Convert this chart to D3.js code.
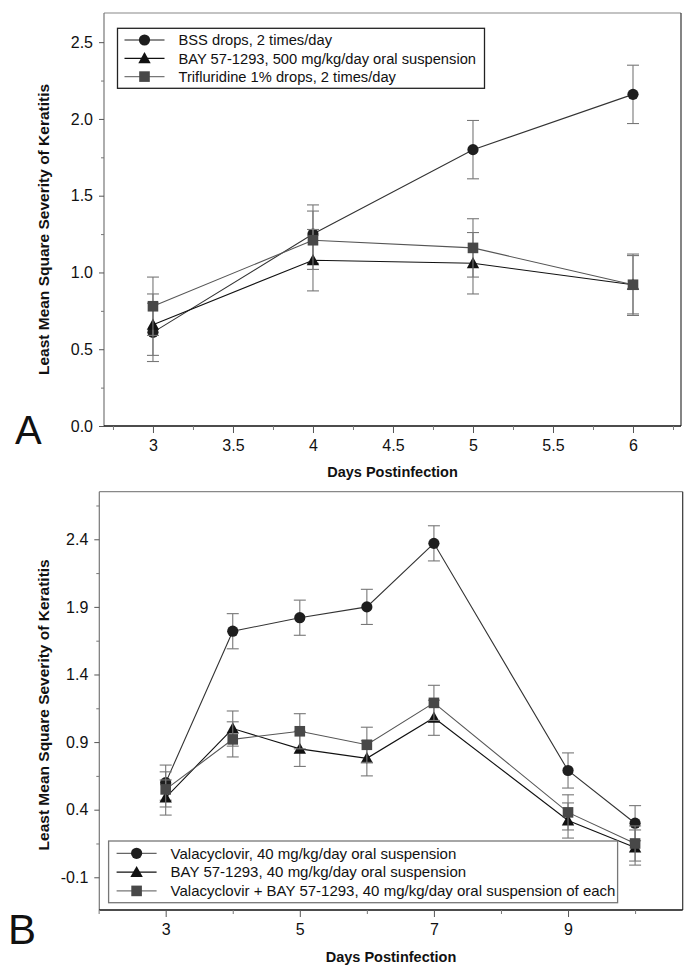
<!DOCTYPE html>
<html><head><meta charset="utf-8">
<script src="https://cdn.jsdelivr.net/npm/d3@7"></script>
<style>body{margin:0;background:#fff}svg{display:block}text{font-family:"Liberation Sans",Arial,Helvetica,sans-serif}</style>
</head><body><div id="chart"></div>
<script>
// ---------- Panel A data ----------
const daysA = [3, 4, 5, 6];
const bssA = [0.61, 1.25, 1.80, 2.16];
const bssErrA = [0.19, 0.19, 0.19, 0.19];
const bayA = [0.66, 1.08, 1.06, 0.92];
const bayErrA = [0.20, 0.20, 0.20, 0.19];
const trifA = [0.78, 1.21, 1.16, 0.92];
const trifErrA = [0.19, 0.19, 0.19, 0.20];
const legendA = ["BSS drops, 2 times/day", "BAY 57-1293, 500 mg/kg/day oral suspension", "Trifluridine 1% drops, 2 times/day"];
const yTicksA = [0, 0.5, 1.0, 1.5, 2.0, 2.5];
const yTickLabelsA = ["0.0", "0.5", "1.0", "1.5", "2.0", "2.5"];
const xTicksA = [3, 3.5, 4, 4.5, 5, 5.5, 6];
const xTickLabelsA = ["3", "3.5", "4", "4.5", "5", "5.5", "6"];

// ---------- Panel B data ----------
const daysB = [3, 4, 5, 6, 7, 9, 10];
const valB = [0.60, 1.72, 1.82, 1.90, 2.37, 0.69, 0.30];
const valErrB = [0.13, 0.13, 0.13, 0.13, 0.13, 0.13, 0.13];
const bayB = [0.49, 1.00, 0.85, 0.78, 1.08, 0.32, 0.12];
const bayErrB = [0.13, 0.13, 0.13, 0.13, 0.13, 0.13, 0.13];
const comboB = [0.55, 0.92, 0.98, 0.88, 1.19, 0.38, 0.15];
const comboErrB = [0.13, 0.13, 0.13, 0.13, 0.13, 0.13, 0.13];
const legendB = ["Valacyclovir, 40 mg/kg/day oral suspension", "BAY 57-1293, 40 mg/kg/day oral suspension", "Valacyclovir + BAY 57-1293, 40 mg/kg/day oral suspension of each"];
const yTicksB = [-0.1, 0.4, 0.9, 1.4, 1.9, 2.4];
const yTickLabelsB = ["-0.1", "0.4", "0.9", "1.4", "1.9", "2.4"];
const xTicksB = [3, 5, 7, 9];
const xTickLabelsB = ["3", "5", "7", "9"];

const xLabel = "Days Postinfection";
const yLabel = "Least Mean Square Severity of Keratitis";

const W = 696, H = 973;
const svg = d3.select("#chart").append("svg").attr("width", W).attr("height", H);
svg.append("rect").attr("width", W).attr("height", H).attr("fill", "#fff");

const FONT = '"Liberation Sans", Arial, Helvetica, sans-serif';

function drawMarker(g, type, cx, cy, fill) {
  if (type === "circle") {
    g.append("circle").attr("cx", cx).attr("cy", cy).attr("r", 5.6).attr("fill", fill);
  } else if (type === "triangle") {
    const s = 6.2;
    g.append("path").attr("d", `M${cx},${cy - s}L${cx + s},${cy + s * 0.8}L${cx - s},${cy + s * 0.8}Z`).attr("fill", fill);
  } else {
    g.append("rect").attr("x", cx - 5.3).attr("y", cy - 5.3).attr("width", 10.6).attr("height", 10.6).attr("fill", fill);
  }
}

function panel(cfg) {
  const g = svg.append("g");
  const x = d3.scaleLinear().domain(cfg.xDomain).range([cfg.left, cfg.right]);
  const y = d3.scaleLinear().domain(cfg.yDomain).range([cfg.bottom, cfg.top]);

  // frame
  g.append("line").attr("x1", cfg.left).attr("x2", cfg.right).attr("y1", cfg.top).attr("y2", cfg.top).attr("stroke", "#888").attr("stroke-width", 1.2);
  g.append("line").attr("x1", cfg.right).attr("x2", cfg.right).attr("y1", cfg.top).attr("y2", cfg.bottom).attr("stroke", "#333").attr("stroke-width", 1.2);

  // y axis
  const yAxis = d3.axisLeft(y).tickValues(cfg.yTicks).tickSize(5).tickPadding(6)
    .tickFormat((d, i) => cfg.yTickLabels[i]);
  const ya = g.append("g").attr("transform", `translate(${cfg.left},0)`).call(yAxis);
  ya.select(".domain").attr("d", `M0,${cfg.top}V${cfg.bottom}`).attr("stroke", "#777").attr("stroke-width", 1.2);
  ya.selectAll(".tick line").attr("stroke", "#555");
  ya.selectAll(".tick text").attr("font-size", 16).attr("font-family", FONT).attr("fill", "#111");
  const yMinor = d3.axisLeft(y).tickValues(cfg.yMinor).tickSize(3).tickFormat("");
  const ym = g.append("g").attr("transform", `translate(${cfg.left},0)`).call(yMinor);
  ym.select(".domain").remove();
  ym.selectAll(".tick line").attr("stroke", "#777");

  // x axis
  const xAxis = d3.axisBottom(x).tickValues(cfg.xTicks).tickSize(7).tickPadding(7)
    .tickFormat((d, i) => cfg.xTickLabels[i]);
  const xa = g.append("g").attr("transform", `translate(0,${cfg.bottom})`).call(xAxis);
  xa.select(".domain").attr("d", `M${cfg.left},0H${cfg.right}`).attr("stroke", "#111").attr("stroke-width", 1.5);
  xa.selectAll(".tick line").attr("stroke", "#555");
  xa.selectAll(".tick text").attr("font-size", 16).attr("font-family", FONT).attr("fill", "#111");
  const xMinor = d3.axisBottom(x).tickValues(cfg.xMinor).tickSize(4).tickFormat("");
  const xm = g.append("g").attr("transform", `translate(0,${cfg.bottom})`).call(xMinor);
  xm.select(".domain").remove();
  xm.selectAll(".tick line").attr("stroke", "#777");

  // axis titles
  g.append("text").attr("x", (cfg.left + cfg.right) / 2).attr("y", cfg.xTitleY)
    .attr("text-anchor", "middle").attr("font-weight", "bold").attr("font-size", 14.5).attr("fill", "#111").text(xLabel);
  g.append("text").attr("transform", `translate(${cfg.yTitleX},${(cfg.top + cfg.bottom) / 2 + cfg.yTitleShift}) rotate(-90)`)
    .attr("text-anchor", "middle").attr("font-weight", "bold").attr("font-size", 15.5).attr("fill", "#111").text(yLabel);
  g.append("text").attr("x", cfg.letterX).attr("y", cfg.letterY).attr("font-size", cfg.letterSize).attr("fill", "#111").text(cfg.letter);

  // series
  cfg.series.forEach(s => {
    const pts = cfg.days.map((d, i) => ({ d, v: s.values[i], e: s.errors[i] }));
    const eb = g.append("g").attr("stroke", "#777").attr("stroke-width", 1.1);
    pts.forEach(p => {
      const cx = x(p.d), y1 = y(p.v + p.e), y2 = y(p.v - p.e);
      eb.append("line").attr("x1", cx).attr("x2", cx).attr("y1", y1).attr("y2", y2);
      eb.append("line").attr("x1", cx - 6).attr("x2", cx + 6).attr("y1", y1).attr("y2", y1);
      eb.append("line").attr("x1", cx - 6).attr("x2", cx + 6).attr("y1", y2).attr("y2", y2);
    });
    g.append("path").datum(pts).attr("fill", "none").attr("stroke", s.line).attr("stroke-width", 1.1)
      .attr("d", d3.line().x(p => x(p.d)).y(p => y(p.v)));
    pts.forEach(p => drawMarker(g, s.marker, x(p.d), y(p.v), s.fill));
  });

  // legend
  const L = cfg.legend;
  const lg = g.append("g");
  lg.append("rect").attr("x", L.x).attr("y", L.y).attr("width", L.w).attr("height", L.h)
    .attr("fill", "#fff").attr("stroke", L.stroke).attr("stroke-width", 1.3);
  cfg.series.forEach((s, i) => {
    const cy = L.y + L.row0 + i * L.rowH;
    lg.append("line").attr("x1", L.x + L.lineX0).attr("x2", L.x + L.lineX1).attr("y1", cy).attr("y2", cy)
      .attr("stroke", s.legendLine).attr("stroke-width", 1.3);
    drawMarker(lg, s.marker, L.x + (L.lineX0 + L.lineX1) / 2, cy, s.fill);
    lg.append("text").attr("x", L.x + L.textX).attr("y", cy + 5.3).attr("font-size", L.fontSize).attr("fill", "#111").text(s.label);
  });
}

panel({
  left: 104, right: 681, top: 13, bottom: 426,
  xDomain: [2.694, 6.3], yDomain: [0, 2.69],
  xTicks: xTicksA, xTickLabels: xTickLabelsA,
  xMinor: [2.75, 3.25, 3.75, 4.25, 4.75, 5.25, 5.75, 6.25],
  yTicks: yTicksA, yTickLabels: yTickLabelsA,
  yMinor: [0.25, 0.75, 1.25, 1.75, 2.25],
  xTitleY: 477, yTitleX: 49, yTitleShift: 10, letter: "A", letterX: 15, letterY: 444, letterSize: 40,
  days: daysA,
  series: [
    { values: bssA, errors: bssErrA, marker: "circle", fill: "#1e1e1e", line: "#333", legendLine: "#666", label: legendA[0] },
    { values: bayA, errors: bayErrA, marker: "triangle", fill: "#111", line: "#111", legendLine: "#111", label: legendA[1] },
    { values: trifA, errors: trifErrA, marker: "square", fill: "#484848", line: "#555", legendLine: "#777", label: legendA[2] }
  ],
  legend: { x: 117.5, y: 28.3, w: 367, h: 60, row0: 11.7, rowH: 18.3, lineX0: 7, lineX1: 47, textX: 61, stroke: "#222", fontSize: 14.7 }
});

panel({
  left: 99.3, right: 682.7, top: 491.7, bottom: 910,
  xDomain: [2.01, 10.71], yDomain: [-0.342, 2.752],
  xTicks: xTicksB, xTickLabels: xTickLabelsB,
  xMinor: [2, 4, 6, 8, 10],
  yTicks: yTicksB, yTickLabels: yTickLabelsB,
  yMinor: [0.15, 0.65, 1.15, 1.65, 2.15, 2.65],
  xTitleY: 962, yTitleX: 49, yTitleShift: 4, letter: "B", letterX: 8, letterY: 944, letterSize: 42,
  days: daysB,
  series: [
    { values: valB, errors: valErrB, marker: "circle", fill: "#1e1e1e", line: "#333", legendLine: "#666", label: legendB[0] },
    { values: bayB, errors: bayErrB, marker: "triangle", fill: "#111", line: "#111", legendLine: "#111", label: legendB[1] },
    { values: comboB, errors: comboErrB, marker: "square", fill: "#484848", line: "#555", legendLine: "#777", label: legendB[2] }
  ],
  legend: { x: 108.6, y: 841, w: 509, h: 61.7, row0: 12.3, rowH: 18.8, lineX0: 8, lineX1: 48, textX: 62, stroke: "#777", fontSize: 15 }
});
</script></body></html>
